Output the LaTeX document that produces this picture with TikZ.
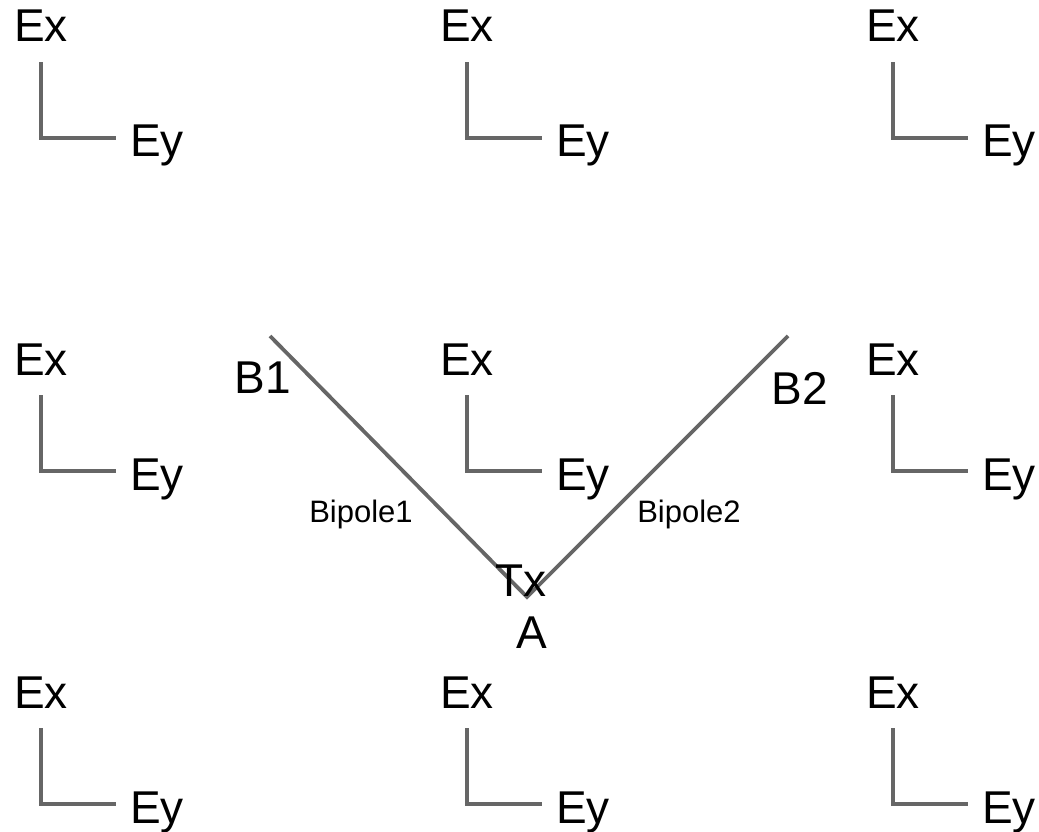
\documentclass[tikz,border=0pt]{standalone}
\usepackage{fontspec}
\setmainfont{Liberation Sans}
\begin{document}
\begin{tikzpicture}[x=1pt,y=-1pt,
  big/.style={inner sep=0pt,anchor=base,font=\fontsize{46}{46}\selectfont},
  small/.style={inner sep=0pt,anchor=base,font=\fontsize{31}{31}\selectfont},
  axis/.style={draw=black!60,line width=3.3pt},
  pole/.style={draw=black!60,line width=3.8pt}]
\useasboundingbox (0,0) rectangle (1039,832);
\foreach \c/\dx in {0/0,1/426,2/852}{
  \foreach \r/\dy in {0/0,1/333,2/666}{
    \node[big] (ex-\c-\r) at (41+\dx,42+\dy) {Ex};
    \node[big] (ey-\c-\r) at (157+\dx,157+\dy) {Ey};
    \draw[axis] ([yshift=-20pt]ex-\c-\r.south) |- ([xshift=-14pt,yshift=8pt]ey-\c-\r.west);
  }
}
\coordinate (b1end) at (270,336);
\coordinate (b2end) at (788,336);
\coordinate (vtx) at (527,597);
\draw[pole] (b1end) -- (vtx) -- (b2end);
\node[big] (B1) at (263,393) {B1};
\node[big] (B2) at (800,404) {B2};
\node[big] (Tx) at (521,596) {Tx};
\node[big] (A) at (532,648) {A};
\node[small] (bp1) at (361,522) {Bipole1};
\node[small] (bp2) at (689,522) {Bipole2};
\end{tikzpicture}
\end{document}
